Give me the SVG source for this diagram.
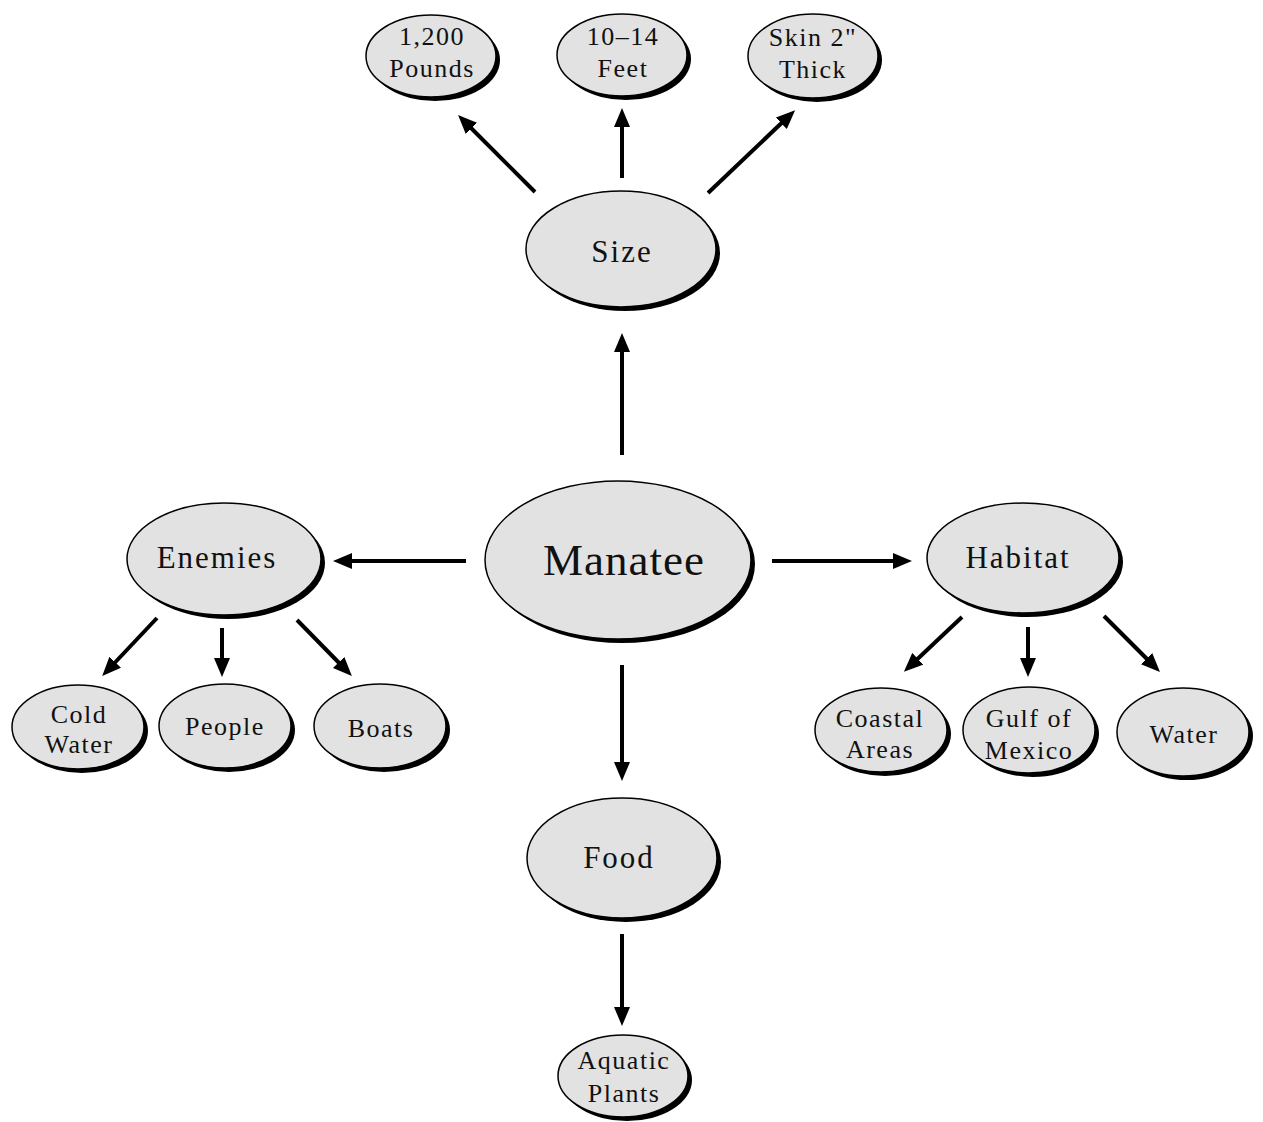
<svg xmlns="http://www.w3.org/2000/svg" width="1263" height="1122" viewBox="0 0 1263 1122">
<defs>
<style>
.sh{fill:#000}
.el{fill:#e2e2e2;stroke:#000;stroke-width:1.5}
.t{font-family:"Liberation Serif","Times New Roman",serif;fill:#111;text-anchor:middle}
.big{font-size:45px;letter-spacing:1px}
.mid{font-size:31px;letter-spacing:2px}
.sm{font-size:26px;letter-spacing:1.5px}
.c{stroke:#000;stroke-width:4;fill:none;marker-end:url(#ah)}
</style>
<marker id="ah" markerUnits="userSpaceOnUse" markerWidth="20" markerHeight="16" refX="12" refY="8" orient="auto">
<path d="M0,0 L19,8 L0,16 z" fill="#000"/>
</marker>
</defs>
<rect width="1263" height="1122" fill="#fff"/>
<g id="connectors">
<line class="c" x1="622" y1="455" x2="622" y2="340"/>
<line class="c" x1="466" y1="561" x2="340" y2="561"/>
<line class="c" x1="772" y1="561" x2="905" y2="561"/>
<line class="c" x1="622" y1="665" x2="622" y2="774"/>
<line class="c" x1="535" y1="192" x2="463" y2="120"/>
<line class="c" x1="622" y1="178" x2="622" y2="115"/>
<line class="c" x1="708" y1="193" x2="790" y2="115"/>
<line class="c" x1="157" y1="618" x2="107" y2="671"/>
<line class="c" x1="222" y1="628" x2="222" y2="670"/>
<line class="c" x1="297" y1="620" x2="347" y2="671"/>
<line class="c" x1="962" y1="617" x2="909" y2="667"/>
<line class="c" x1="1028" y1="627" x2="1028" y2="670"/>
<line class="c" x1="1104" y1="616" x2="1155" y2="667"/>
<line class="c" x1="622" y1="934" x2="622" y2="1019"/>
</g>
<g id="manatee"><ellipse class="sh" cx="622" cy="564" rx="133" ry="79"/><ellipse class="el" cx="618" cy="560" rx="133" ry="79"/><text class="t big" x="624" y="575">Manatee</text></g>
<g id="size"><ellipse class="sh" cx="625" cy="253" rx="95" ry="58"/><ellipse class="el" cx="621" cy="249" rx="95" ry="58"/><text class="t mid" x="622" y="262">Size</text></g>
<g id="pounds"><ellipse class="sh" cx="435" cy="60" rx="65" ry="41"/><ellipse class="el" cx="431" cy="56" rx="65" ry="41"/><text class="t sm" x="432" y="45">1,200</text><text class="t sm" x="432" y="77">Pounds</text></g>
<g id="feet"><ellipse class="sh" cx="626" cy="59" rx="65" ry="41"/><ellipse class="el" cx="622" cy="55" rx="65" ry="41"/><text class="t sm" x="623" y="45">10–14</text><text class="t sm" x="623" y="77">Feet</text></g>
<g id="skin"><ellipse class="sh" cx="817" cy="60" rx="65" ry="42"/><ellipse class="el" cx="813" cy="56" rx="65" ry="42"/><text class="t sm" x="813" y="46">Skin 2"</text><text class="t sm" x="813" y="78">Thick</text></g>
<g id="enemies"><ellipse class="sh" cx="228" cy="563" rx="97" ry="56"/><ellipse class="el" cx="224" cy="559" rx="97" ry="56"/><text class="t mid" x="217" y="568">Enemies</text></g>
<g id="coldwater"><ellipse class="sh" cx="82" cy="731" rx="66" ry="42"/><ellipse class="el" cx="78" cy="727" rx="66" ry="42"/><text class="t sm" x="79" y="723">Cold</text><text class="t sm" x="79" y="753">Water</text></g>
<g id="people"><ellipse class="sh" cx="229" cy="730" rx="66" ry="42"/><ellipse class="el" cx="225" cy="726" rx="66" ry="42"/><text class="t sm" x="225" y="735">People</text></g>
<g id="boats"><ellipse class="sh" cx="384" cy="730" rx="66" ry="42"/><ellipse class="el" cx="380" cy="726" rx="66" ry="42"/><text class="t sm" x="381" y="737">Boats</text></g>
<g id="habitat"><ellipse class="sh" cx="1027" cy="562" rx="96" ry="55"/><ellipse class="el" cx="1023" cy="558" rx="96" ry="55"/><text class="t mid" x="1018" y="568">Habitat</text></g>
<g id="coastal"><ellipse class="sh" cx="885" cy="734" rx="66" ry="42"/><ellipse class="el" cx="881" cy="730" rx="66" ry="42"/><text class="t sm" x="880" y="727">Coastal</text><text class="t sm" x="880" y="758">Areas</text></g>
<g id="gulf"><ellipse class="sh" cx="1033" cy="734" rx="66" ry="43"/><ellipse class="el" cx="1029" cy="730" rx="66" ry="43"/><text class="t sm" x="1029" y="727">Gulf of</text><text class="t sm" x="1029" y="759">Mexico</text></g>
<g id="water"><ellipse class="sh" cx="1187" cy="736" rx="66" ry="44"/><ellipse class="el" cx="1183" cy="732" rx="66" ry="44"/><text class="t sm" x="1184" y="743">Water</text></g>
<g id="food"><ellipse class="sh" cx="626" cy="862" rx="95" ry="60"/><ellipse class="el" cx="622" cy="858" rx="95" ry="60"/><text class="t mid" x="619" y="868">Food</text></g>
<g id="aquatic"><ellipse class="sh" cx="627" cy="1080" rx="65" ry="41"/><ellipse class="el" cx="623" cy="1076" rx="65" ry="41"/><text class="t sm" x="624" y="1069">Aquatic</text><text class="t sm" x="624" y="1102">Plants</text></g>
</svg>
